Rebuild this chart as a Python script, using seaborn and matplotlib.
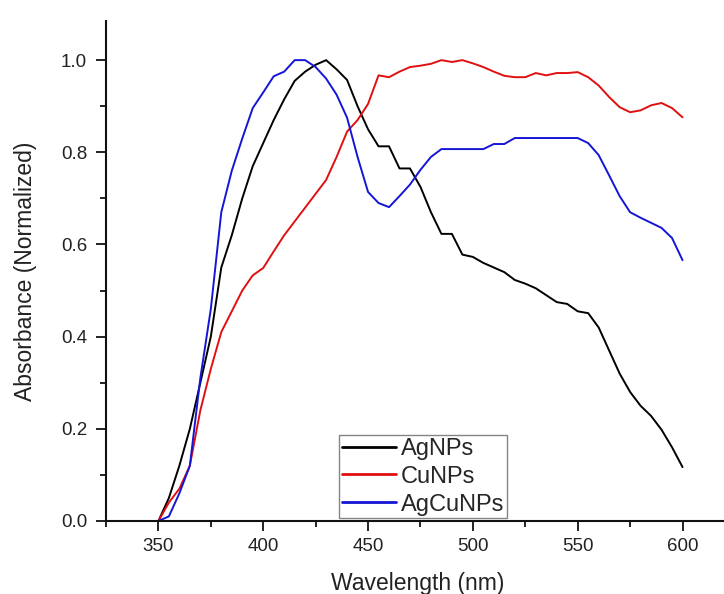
import numpy as np
import pandas as pd
import matplotlib
matplotlib.use("Agg")
import matplotlib.pyplot as plt
import seaborn as sns

wavelength = list(range(350, 605, 5))

ag_nps = [0.0, 0.05, 0.12, 0.20, 0.30, 0.40, 0.55, 0.62, 0.70, 0.77,
          0.82, 0.87, 0.915, 0.955, 0.975, 0.99, 1.0, 0.98, 0.957, 0.90,
          0.85, 0.813, 0.813, 0.765, 0.765, 0.725, 0.67, 0.623, 0.623, 0.578,
          0.573, 0.56, 0.55, 0.54, 0.523, 0.515, 0.505, 0.49, 0.475, 0.471,
          0.455, 0.451, 0.42, 0.37, 0.32, 0.28, 0.25, 0.228, 0.198, 0.16,
          0.117]

cu_nps = [0.0, 0.04, 0.07, 0.12, 0.24, 0.33, 0.41, 0.455, 0.50, 0.533,
          0.549, 0.585, 0.62, 0.65, 0.68, 0.71, 0.74, 0.79, 0.845, 0.87,
          0.905, 0.967, 0.963, 0.975, 0.985, 0.988, 0.992, 1.0, 0.996, 1.0,
          0.993, 0.985, 0.975, 0.966, 0.963, 0.963, 0.972, 0.967, 0.972, 0.972,
          0.974, 0.963, 0.945, 0.92, 0.898, 0.887, 0.891, 0.902, 0.907, 0.896,
          0.876]

agcu_nps = [0.0, 0.01, 0.06, 0.12, 0.31, 0.46, 0.67, 0.76, 0.83, 0.896,
            0.93, 0.965, 0.975, 1.0, 1.0, 0.985, 0.96, 0.925, 0.875, 0.79,
            0.714, 0.69, 0.681, 0.705, 0.73, 0.762, 0.79, 0.807, 0.807, 0.807,
            0.807, 0.807, 0.818, 0.818, 0.831, 0.831, 0.831, 0.831, 0.831, 0.831,
            0.831, 0.82, 0.794, 0.75, 0.705, 0.67, 0.658, 0.647, 0.636, 0.614,
            0.566]

labels = ["AgNPs", "CuNPs", "AgCuNPs"]
colors = ["#000000", "#e01010", "#1515d5"]

df = pd.concat([
    pd.DataFrame({"Wavelength": wavelength, "Absorbance": vals, "Sample": name})
    for name, vals in zip(labels, [ag_nps, cu_nps, agcu_nps])
])

sns.set_style("ticks")
plt.rcParams["font.family"] = ["Liberation Sans", "DejaVu Sans"]

fig = plt.figure(figsize=(7.24, 5.94), dpi=100)
ax = fig.add_axes([0.1464, 0.1229, 0.86, 0.8418])

sns.lineplot(data=df, x="Wavelength", y="Absorbance", hue="Sample",
             hue_order=labels, palette=colors, linewidth=1.4, ax=ax)

ax.set_xlim(325, 622)
ax.set_ylim(0, 1.085)
ax.set_xticks([350, 400, 450, 500, 550, 600])
ax.set_xticks(np.arange(325, 625, 25), minor=True)
ax.set_yticks([0.0, 0.2, 0.4, 0.6, 0.8, 1.0])
ax.set_yticks(np.arange(0, 1.05, 0.1), minor=True)
ax.yaxis.set_major_formatter(matplotlib.ticker.FormatStrFormatter("%.1f"))

ax.tick_params(which="major", length=7.5, width=1.4, labelsize=13.5, colors="#222222")
ax.tick_params(which="minor", length=4, width=1.4, colors="#222222")
ax.tick_params(axis="x", which="major", pad=5)
ax.tick_params(axis="y", which="major", pad=6)
for side in ["left", "bottom"]:
    ax.spines[side].set_linewidth(1.5)
    ax.spines[side].set_color("#111111")
sns.despine(ax=ax)

ax.set_xlabel("Wavelength (nm)", fontsize=16.5, labelpad=12, color="#222222")
ax.set_ylabel("Absorbance (Normalized)", fontsize=16.5, labelpad=17, color="#222222")

leg = ax.legend(loc="lower left", bbox_to_anchor=(0.375, 0.006), fontsize=17,
                frameon=True, fancybox=False, edgecolor="#666666",
                handlelength=2.3, handletextpad=0.2, labelspacing=0.25,
                borderpad=0.1, borderaxespad=0)
leg.get_frame().set_linewidth(1.0)
for line in leg.get_lines():
    line.set_linewidth(2.0)

fig.savefig("out.png", dpi=100)
